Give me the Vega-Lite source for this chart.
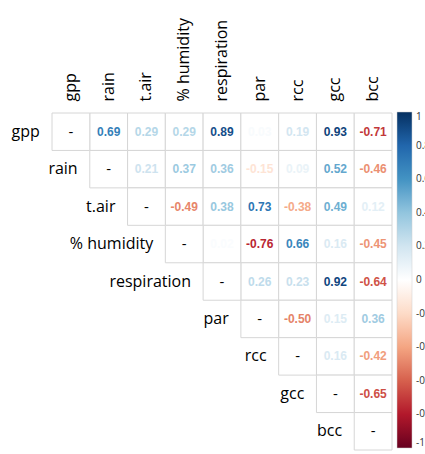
{
  "$schema": "https://vega.github.io/schema/vega-lite/v6.json",
  "width": 340,
  "height": 337,
  "autosize": {"type": "none"},
  "padding": {"left": 52, "top": 113, "right": 33, "bottom": 4},
  "background": "white",
  "config": {
    "view": {"stroke": null},
    "locale": {"number": {"decimal": ".", "thousands": ",", "grouping": [3], "currency": ["$", ""], "minus": "-"}}
  },
  "datasets": {
    "cells": [
      {"row": "gpp", "col": "rain", "r": 0.69},
      {"row": "gpp", "col": "t.air", "r": 0.29},
      {"row": "gpp", "col": "% humidity", "r": 0.29},
      {"row": "gpp", "col": "respiration", "r": 0.89},
      {"row": "gpp", "col": "par", "r": 0.03},
      {"row": "gpp", "col": "rcc", "r": 0.19},
      {"row": "gpp", "col": "gcc", "r": 0.93},
      {"row": "gpp", "col": "bcc", "r": -0.71},
      {"row": "rain", "col": "t.air", "r": 0.21},
      {"row": "rain", "col": "% humidity", "r": 0.37},
      {"row": "rain", "col": "respiration", "r": 0.36},
      {"row": "rain", "col": "par", "r": -0.15},
      {"row": "rain", "col": "rcc", "r": 0.09},
      {"row": "rain", "col": "gcc", "r": 0.52},
      {"row": "rain", "col": "bcc", "r": -0.46},
      {"row": "t.air", "col": "% humidity", "r": -0.49},
      {"row": "t.air", "col": "respiration", "r": 0.38},
      {"row": "t.air", "col": "par", "r": 0.73},
      {"row": "t.air", "col": "rcc", "r": -0.38},
      {"row": "t.air", "col": "gcc", "r": 0.49},
      {"row": "t.air", "col": "bcc", "r": 0.12},
      {"row": "% humidity", "col": "respiration", "r": 0.02},
      {"row": "% humidity", "col": "par", "r": -0.76},
      {"row": "% humidity", "col": "rcc", "r": 0.66},
      {"row": "% humidity", "col": "gcc", "r": 0.16},
      {"row": "% humidity", "col": "bcc", "r": -0.45},
      {"row": "respiration", "col": "par", "r": 0.26},
      {"row": "respiration", "col": "rcc", "r": 0.23},
      {"row": "respiration", "col": "gcc", "r": 0.92},
      {"row": "respiration", "col": "bcc", "r": -0.64},
      {"row": "par", "col": "rcc", "r": -0.50},
      {"row": "par", "col": "gcc", "r": 0.15},
      {"row": "par", "col": "bcc", "r": 0.36},
      {"row": "rcc", "col": "gcc", "r": 0.16},
      {"row": "rcc", "col": "bcc", "r": -0.42},
      {"row": "gcc", "col": "bcc", "r": -0.65}
    ],
    "vars": [
      {"row": "gpp", "col": "gpp"},
      {"row": "rain", "col": "rain"},
      {"row": "t.air", "col": "t.air"},
      {"row": "% humidity", "col": "% humidity"},
      {"row": "respiration", "col": "respiration"},
      {"row": "par", "col": "par"},
      {"row": "rcc", "col": "rcc"},
      {"row": "gcc", "col": "gcc"},
      {"row": "bcc", "col": "bcc"}
    ]
  },
  "encoding": {
    "x": {
      "field": "col", "type": "nominal",
      "scale": {"domain": ["gpp", "rain", "t.air", "% humidity", "respiration", "par", "rcc", "gcc", "bcc"], "paddingInner": 0, "paddingOuter": 0},
      "axis": {"orient": "top", "title": null, "domain": false, "ticks": false, "grid": false, "labelAngle": 270, "labelPadding": 12, "labelFont": "Open Sans", "labelFontSize": 16, "labelColor": "black", "labelFontWeight": "normal"}
    },
    "y": {
      "field": "row", "type": "nominal",
      "scale": {"domain": ["gpp", "rain", "t.air", "% humidity", "respiration", "par", "rcc", "gcc", "bcc"], "paddingInner": 0, "paddingOuter": 0},
      "axis": null
    }
  },
  "layer": [
    {"data": {"name": "cells"}, "mark": {"type": "rect", "fill": "white", "stroke": "#d6d6d6", "strokeWidth": 1}},
    {"data": {"name": "vars"}, "mark": {"type": "rect", "fill": "white", "stroke": "#d6d6d6", "strokeWidth": 1}},
    {
      "data": {"name": "cells"},
      "mark": {"type": "text", "font": "Liberation Sans", "fontWeight": "bold", "fontSize": 12},
      "encoding": {
        "text": {"field": "r", "type": "quantitative", "format": ".2f"},
        "color": {
          "field": "r", "type": "quantitative",
          "scale": {
            "domain": [-1, -0.8, -0.6, -0.4, -0.2, 0, 0.2, 0.4, 0.6, 0.8, 1],
            "range": ["#67001F", "#B2182B", "#D6604D", "#F4A582", "#FDDBC7", "#FFFFFF", "#D1E5F0", "#92C5DE", "#4393C3", "#2166AC", "#053061"],
            "interpolate": "rgb"
          },
          "legend": {
            "orient": "none", "legendX": 345, "legendY": -1,
            "direction": "vertical", "title": null,
            "gradientLength": 336, "gradientThickness": 15,
            "gradientStrokeColor": "#cccccc", "gradientStrokeWidth": 0.5,
            "values": [-1, -0.8, -0.6, -0.4, -0.2, 0, 0.2, 0.4, 0.6, 0.8, 1],
            "format": "~g", "labelOverlap": false,
            "labelFont": "Open Sans", "labelFontSize": 10, "labelColor": "#333333", "labelOffset": 4
          }
        }
      }
    },
    {
      "data": {"name": "vars"},
      "mark": {"type": "text", "text": "-", "font": "Open Sans", "fontSize": 15, "color": "black"}
    },
    {
      "data": {"name": "vars"},
      "mark": {"type": "text", "align": "right", "baseline": "middle", "dx": -31, "font": "Open Sans", "fontSize": 16, "color": "black"},
      "encoding": {"text": {"field": "row", "type": "nominal"}}
    }
  ]
}
